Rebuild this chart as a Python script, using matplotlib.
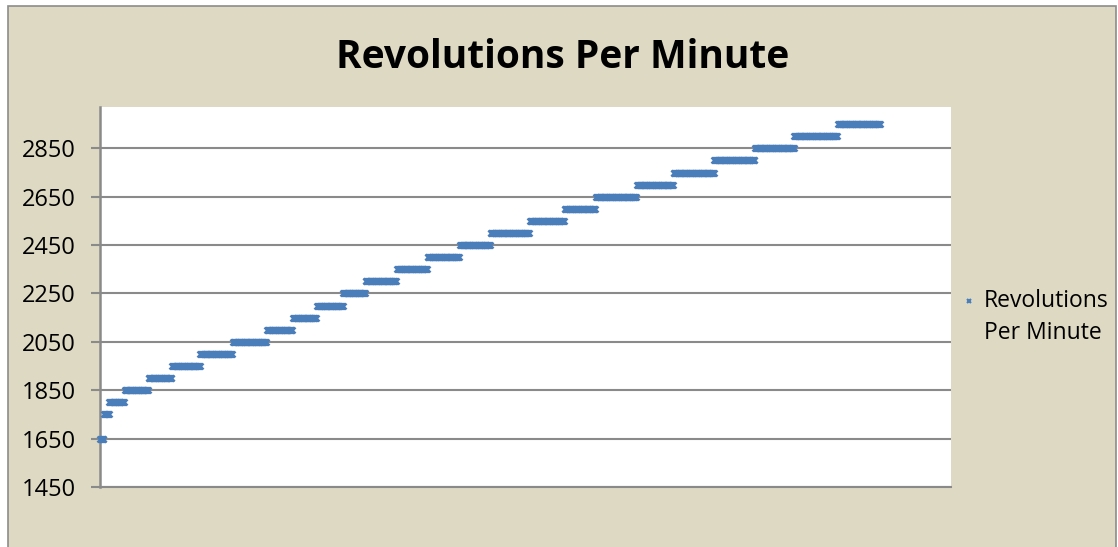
import numpy as np
import matplotlib
matplotlib.use("Agg")
import matplotlib.pyplot as plt
from matplotlib.lines import Line2D
from matplotlib.patches import Rectangle

# RPM plateaus and how many consecutive samples were logged at each
rpm_levels = [1650, 1750, 1800, 1850, 1900, 1950, 2000, 2050, 2100, 2150,
              2200, 2250, 2300, 2350, 2400, 2450, 2500, 2550, 2600, 2650,
              2700, 2750, 2800, 2850, 2900, 2950]
samples_per_level = [5, 6, 18, 28, 28, 33, 38, 40, 31, 28,
                     31, 26, 37, 36, 38, 36, 46, 41, 37, 48,
                     43, 48, 48, 46, 51, 50]
y_ticks = [1450, 1650, 1850, 2050, 2250, 2450, 2650, 2850]

rpm = np.repeat(rpm_levels, samples_per_level)
sample = np.arange(len(rpm))

W, H = 1118, 547
fig = plt.figure(figsize=(W / 100, H / 100), dpi=100)
fig.patch.set_facecolor("white")

# chart area background with border
fig.add_artist(Rectangle((8 / W, -0.05), (1116 - 8) / W, 1.05 - 6 / H,
                         transform=fig.transFigure, facecolor="#DDD9C3",
                         edgecolor="#8C8C8C", linewidth=1.2, zorder=0))

ax = fig.add_axes([100 / W, 1 - 487 / H, (951 - 100) / W, (487 - 107) / H])
ax.set_facecolor("white")

blue = "#4A7EBB"
ax.plot(sample, rpm, linestyle="none", marker="x", markersize=4.6,
        markeredgewidth=1.8, color=blue, zorder=3, clip_on=False)

ax.set_xlim(0, 1000)
ax.set_ylim(1450, 3021)
ax.set_yticks(y_ticks)
ax.set_xticks([])

grid_c = "#8A8A8A"
ax.yaxis.grid(True, color=grid_c, linewidth=1.5)
ax.set_axisbelow(True)
for s in ["top", "right"]:
    ax.spines[s].set_visible(False)
ax.spines["left"].set_color(grid_c)
ax.spines["left"].set_linewidth(1.8)
ax.spines["bottom"].set_color(grid_c)
ax.spines["bottom"].set_linewidth(1.5)

ax.tick_params(axis="y", direction="out", length=6.5, width=1.5, color=grid_c,
               pad=11, labelsize=17, labelcolor="black")
for lbl in ax.get_yticklabels():
    lbl.set_fontfamily("Open Sans")

fig.text(563 / W, 1 - 57 / H, "Revolutions Per Minute", ha="center",
         va="center", fontsize=28, fontweight="bold", family="Open Sans")

# legend entry
fig.add_artist(Line2D([969 / W], [1 - 301 / H], transform=fig.transFigure,
                      marker="x", markersize=3.5, markeredgewidth=1.5,
                      color=blue, linestyle="none"))
fig.text(984 / W, 1 - 301 / H, "Revolutions", ha="left", va="center",
         fontsize=16.5, family="Open Sans")
fig.text(984 / W, 1 - 333 / H, "Per Minute", ha="left", va="center",
         fontsize=16.5, family="Open Sans")

fig.savefig("out.png", dpi=100)
